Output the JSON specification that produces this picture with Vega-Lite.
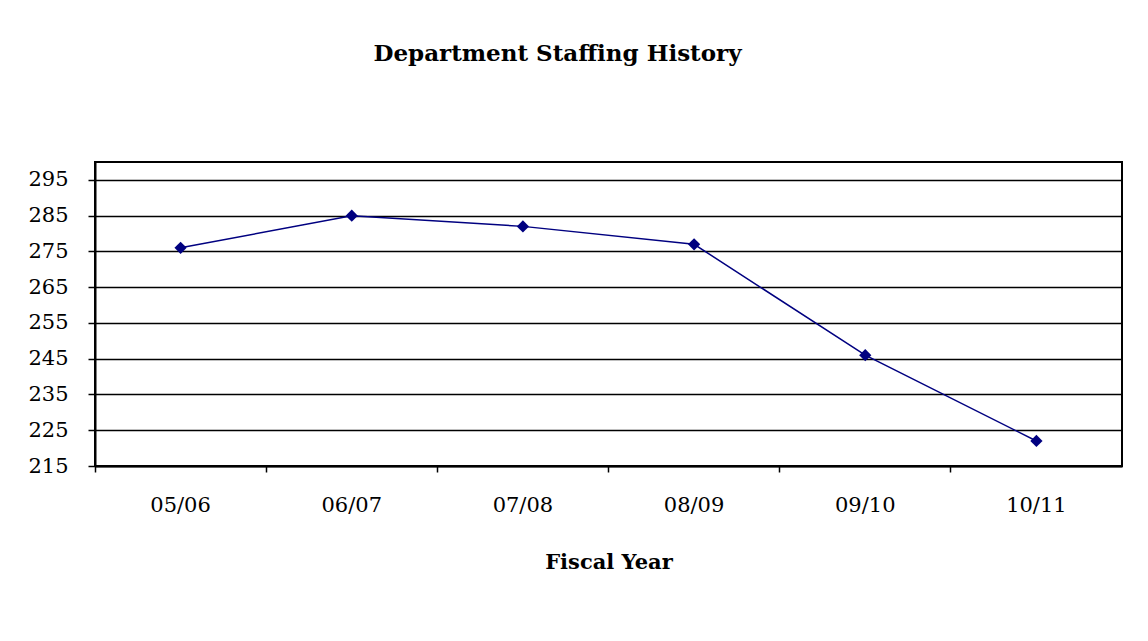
{
  "$schema": "https://vega.github.io/schema/vega-lite/v6.json",
  "width": 1027,
  "height": 304,
  "autosize": {"type": "none"},
  "padding": {"left": 95, "top": 162, "right": 26, "bottom": 175},
  "background": "white",
  "title": {
    "text": "Department Staffing History",
    "font": "DejaVu Serif",
    "fontSize": 23,
    "fontWeight": "bold",
    "color": "black",
    "anchor": "middle",
    "dx": -51,
    "offset": 96
  },
  "config": {
    "view": {"stroke": "black", "strokeWidth": 2},
    "axis": {"labelFont": "DejaVu Serif", "titleFont": "DejaVu Serif", "labelColor": "black", "titleColor": "black"}
  },
  "data": {
    "values": [
      {"year": "05/06", "staff": 276},
      {"year": "06/07", "staff": 285},
      {"year": "07/08", "staff": 282},
      {"year": "08/09", "staff": 277},
      {"year": "09/10", "staff": 246},
      {"year": "10/11", "staff": 222}
    ]
  },
  "encoding": {
    "x": {
      "field": "year",
      "type": "ordinal",
      "sort": null,
      "bandPosition": 0.5,
      "scale": {"type": "band", "paddingInner": 0, "paddingOuter": 0},
      "axis": {
        "title": "Fiscal Year",
        "titleFontSize": 21,
        "titleFontWeight": "bold",
        "titlePadding": 36,
        "labelAngle": 0,
        "labelFontSize": 21,
        "labelPadding": 22,
        "bandPosition": 0,
        "ticks": true,
        "tickSize": 6,
        "tickColor": "black",
        "tickWidth": 1.5,
        "domainColor": "black",
        "domainWidth": 2,
        "grid": false
      }
    },
    "y": {
      "field": "staff",
      "type": "quantitative",
      "scale": {"domain": [215, 300], "nice": false, "zero": false},
      "axis": {
        "title": null,
        "values": [215, 225, 235, 245, 255, 265, 275, 285, 295],
        "labelFontSize": 21,
        "labelPadding": 20,
        "tickSize": 7,
        "tickColor": "black",
        "tickWidth": 1.5,
        "domainColor": "black",
        "domainWidth": 2,
        "grid": true,
        "gridColor": "black",
        "gridWidth": 1.5,
        "gridOpacity": 1
      }
    }
  },
  "layer": [
    {"mark": {"type": "line", "color": "#000080", "strokeWidth": 1.5}},
    {"mark": {"type": "point", "shape": "diamond", "filled": true, "color": "#000080", "size": 150, "opacity": 1}}
  ]
}
